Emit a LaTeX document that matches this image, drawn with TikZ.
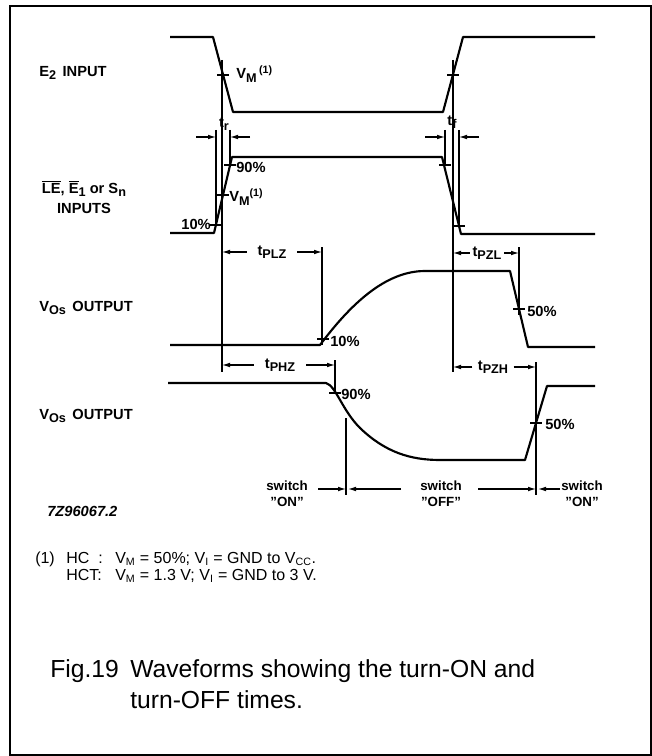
\documentclass[tikz,border=0pt]{standalone}
\usepackage{fontspec}
\setmainfont{Liberation Sans}
\usetikzlibrary{arrows.meta}
\newcommand{\lowtxt}[1]{\raisebox{-2.5pt}{\fontsize{9.5}{10}\selectfont #1}}
\newcommand{\uptxt}[1]{\raisebox{4pt}{\fontsize{8}{9}\selectfont #1}}
\tikzset{
  wave/.style={line width=1.6pt, line join=round},
  guide/.style={line width=0.8pt},
  dimarrow/.style={line width=0.8pt, -{Latex[length=6pt,width=3.5pt]}},
  tickmark/.style={line width=1.2pt},
  lbl/.style={font=\fontsize{11}{14}\selectfont\bfseries, inner sep=0pt},
  pct/.style={lbl, anchor=west},
  dimlbl/.style={lbl, inner xsep=4pt},
  swlbl/.style={lbl, align=center, font=\fontsize{10}{12}\selectfont\bfseries},
  note/.style={font=\fontsize{12}{14}\selectfont, inner sep=0pt, anchor=base west},
  caption/.style={font=\fontsize{18.5}{22}\selectfont, inner sep=0pt, anchor=base west}
}

\begin{document}
\begin{tikzpicture}[x=0.75pt, y=-0.75pt, >=Latex]
  \useasboundingbox (0,0) rectangle (652,756);
  \draw[line width=1.5pt] (10,6) rectangle (650.5,755);

  \node[lbl, anchor=west] (le2) at (39,73) {E\lowtxt{2}\ \,INPUT};
  \node[lbl, anchor=north, align=center] (lle) at (84,180)
    {$\overline{\mbox{LE}}$, $\overline{\mbox{E}}$\lowtxt{1} or S\lowtxt{n}\\[1pt]INPUTS};
  \node[lbl, anchor=west] (lvos1) at (39,308) {V\lowtxt{Os}\ \,OUTPUT};
  \node[lbl, anchor=west] (lvos2) at (39,416) {V\lowtxt{Os}\ \,OUTPUT};
  \node[lbl, anchor=west, font=\fontsize{11}{13}\selectfont\bfseries\itshape] (code) at (47,511) {7Z96067.2};

  \draw[wave] (170,37) -- (213,37) -- (233,112) -- (443,112) -- (463,37) -- (595,37);
  \draw[wave] (170,233) -- (214,233) -- (232,157) -- (442,157) -- (461,234) -- (595,234);
  \draw[wave] (170,345) -- (320,345) .. controls (350,305) and (385,271) .. (425,271)
    -- (510,271) -- (528,347) -- (595,347);
  \draw[wave] (168,383) -- (326,383) .. controls (336,386) and (342,410) .. (360,428)
    .. controls (385,452) and (410,460) .. (440,460)
    -- (525,460) -- (547,386) -- (595,386);

  \foreach \x/\y in {223/75, 453/75, 216/225, 223/195, 230/165, 445/165, 459/226,
                     323/339, 519/309, 335/393, 536/423}
    \draw[tickmark] (\x-6,\y) -- (\x+6,\y);

  \coordinate (ra) at (222,60);
  \coordinate (rb) at (453,60);
  \coordinate (rc) at (322,247);
  \coordinate (rd) at (519,247);
  \coordinate (re) at (335,360);
  \coordinate (rf) at (536,362);
  \coordinate (rg) at (346,418);
  \draw[guide] (ra) -- ++(0,312);
  \draw[guide] (rb) -- ++(0,312);
  \draw[guide] (rc) -- ++(0,98);
  \draw[guide] (rd) -- ++(0,68);
  \draw[guide] (re) -- ++(0,33);
  \draw[guide] (rf) -- ++(0,133);
  \draw[guide] (rg) -- ++(0,77);
  \draw[guide] (216,130) -- (216,226);
  \draw[guide] (230,130) -- (230,165);
  \draw[guide] (445,130) -- (445,165);
  \draw[guide] (459,130) -- (459,226);

  \node[pct] (vm1) at (236,74) {V\lowtxt{M}\,\uptxt{(1)}};
  \node[pct, anchor=east] (p10a) at (211,224) {10\%};
  \node[pct] (vm2) at (229,197) {V\lowtxt{M}\uptxt{(1)}};
  \node[pct] (p90a) at (236,167) {90\%};
  \node[pct] (p10b) at (330,341) {10\%};
  \node[pct] (p50a) at (527,311) {50\%};
  \node[pct] (p90b) at (341,394) {90\%};
  \node[pct] (p50b) at (545,424) {50\%};

  \node[lbl] (tr) at (224,124) {t\lowtxt{r}};
  \draw[dimarrow] (196,137) -- (216,137);
  \draw[dimarrow] (250,137) -- (230,137);
  \node[lbl] (tf) at (452,122) {t\lowtxt{f}};
  \draw[dimarrow] (425,137) -- (445,137);
  \draw[dimarrow] (479,137) -- (459,137);

  \node[dimlbl, inner xsep=8pt] (tplz) at (272,252) {t\lowtxt{PLZ}};
  \draw[dimarrow] (tplz) -- (ra |- tplz);
  \draw[dimarrow] (tplz) -- (rc |- tplz);
  \node[dimlbl, inner xsep=8pt] (tphz) at (280,365) {t\lowtxt{PHZ}};
  \draw[dimarrow] (tphz) -- (ra |- tphz);
  \draw[dimarrow] (tphz) -- (re |- tphz);
  \node[dimlbl, inner xsep=2pt] (tpzl) at (487,253) {t\lowtxt{PZL}};
  \draw[dimarrow] (tpzl) -- (rb |- tpzl);
  \draw[dimarrow] (tpzl) -- (rd |- tpzl);
  \node[dimlbl, inner xsep=4pt] (tpzh) at (493,367) {t\lowtxt{PZH}};
  \draw[dimarrow] (tpzh) -- (rb |- tpzh);
  \draw[dimarrow] (tpzh) -- (rf |- tpzh);

  \node[swlbl] (sw1) at (287,494) {switch\\''ON''};
  \node[swlbl] (sw2) at (441,494) {switch\\''OFF''};
  \node[swlbl] (sw3) at (582,494) {switch\\''ON''};
  \coordinate (s1) at (318,489);
  \coordinate (s2) at (401,489);
  \coordinate (s3) at (478,489);
  \coordinate (s4) at (560,489);
  \draw[dimarrow] (s1) -- (rg |- s1);
  \draw[dimarrow] (s2) -- ([xshift=1.5pt]rg |- s2);
  \draw[dimarrow] (s3) -- (rf |- s3);
  \draw[dimarrow] (s4) -- ([xshift=1.5pt]rf |- s4);

  \node[note] (n1a) at (35,563) {(1)};
  \node[note] (n1b) at (66,563) {HC};
  \node[note] (n1c) at (98,563) {:};
  \node[note] (n1d) at (115,563) {V\textsubscript{M} = 50\%; V\textsubscript{I} = GND to V\textsubscript{CC}.};
  \node[note] (n2b) at (66,580) {HCT:};
  \node[note] (n2d) at (115,580) {V\textsubscript{M} = 1.3 V; V\textsubscript{I} = GND to 3 V.};

  \node[caption] (fig) at (50,677) {Fig.19};
  \node[caption] (cap1) at (130,677) {Waveforms showing the turn-ON and};
  \node[caption] (cap2) at (130,708) {turn-OFF times.};
\end{tikzpicture}
\end{document}
